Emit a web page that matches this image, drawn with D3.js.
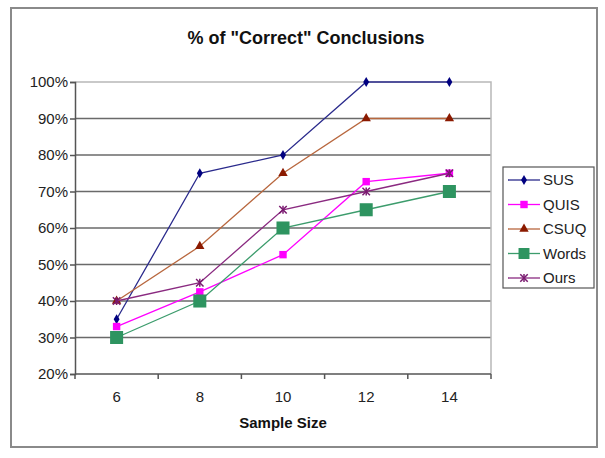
<!DOCTYPE html>
<html><head><meta charset="utf-8">
<script src="https://cdn.jsdelivr.net/npm/d3@7"></script>
<style>body{margin:0;background:#fff;} text{font-family:"Liberation Sans",Arial,sans-serif;}</style>
</head><body>
<svg id="c" width="605" height="458"></svg>
<script>
const categories = ["6", "8", "10", "12", "14"];
const sus   = [35, 75, 80, 100, 100];
const quis  = [33, 42.5, 52.7, 72.7, 75];
const csuq  = [40, 55, 75, 90, 90];
const words = [30, 40, 60, 65, 70];
const ours  = [40, 45, 65, 70, 75];
const yTicks = [20, 30, 40, 50, 60, 70, 80, 90, 100];
const seriesNames = ["SUS", "QUIS", "CSUQ", "Words", "Ours"];

const series = [
  {name: "SUS", values: sus, line: "#2a2a8c", fill: "#000080", marker: "diamond", size: 30},
  {name: "QUIS", values: quis, line: "#ff00ff", fill: "#ff00ff", marker: "square", size: 55},
  {name: "CSUQ", values: csuq, line: "#b8673e", fill: "#8b1a00", marker: "triangle", size: 38},
  {name: "Words", values: words, line: "#3c9c6c", fill: "#2e9460", marker: "square", size: 170},
  {name: "Ours", values: ours, line: "#8a2a80", fill: "#7a1a70", marker: "star", size: 38}
];

const svg = d3.select("#c");
svg.append("rect").attr("x", 11).attr("y", 8).attr("width", 586).attr("height", 439)
  .attr("fill", "#fff").attr("stroke", "#8a8a8a").attr("stroke-width", 2);

const L = 75, R = 491, T = 82, B = 374;
const x = d3.scaleBand().domain(categories).range([L, R]);
const y = d3.scaleLinear().domain([20, 100]).range([B, T]);

svg.append("text").attr("x", 306).attr("y", 44).attr("text-anchor", "middle")
  .attr("font-size", 18).attr("font-weight", "bold").attr("fill", "#111")
  .text('% of "Correct" Conclusions');

svg.append("g").selectAll("line").data(yTicks.slice(1, -1)).join("line")
  .attr("x1", L).attr("x2", R).attr("y1", d => y(d)).attr("y2", d => y(d))
  .attr("stroke", "#6a6a6a").attr("stroke-width", 1.6);
svg.append("path").attr("d", `M${L},${T}H${R}V${B}`).attr("fill", "none")
  .attr("stroke", "#b8b8b8").attr("stroke-width", 1.5);

const yAxis = d3.axisLeft(y).tickValues(yTicks).tickSize(5).tickFormat(d => d + "%");
const gy = svg.append("g").attr("transform", `translate(${L},0)`).call(yAxis);
const xAxis = d3.axisBottom(x).tickSize(0);
const gx = svg.append("g").attr("transform", `translate(0,${B})`).call(xAxis);
[gx, gy].forEach(g => {
  g.select(".domain").attr("stroke", "#555").attr("stroke-width", 1.5);
  g.selectAll(".tick line").attr("stroke", "#555").attr("stroke-width", 1.5);
  g.selectAll("text").attr("font-size", 15).attr("fill", "#222")
    .attr("font-family", '"Liberation Sans",Arial,sans-serif');
});
gy.selectAll("text").attr("x", -7);
gx.selectAll("text").attr("y", 28).attr("dy", 0);
gx.select(".domain").attr("d", `M${L},0H${R}`);
const bounds = d3.range(categories.length + 1).map(i => L + i * x.step());
svg.append("g").selectAll("line").data(bounds).join("line")
  .attr("x1", d => d).attr("x2", d => d).attr("y1", B).attr("y2", B + 5)
  .attr("stroke", "#555").attr("stroke-width", 1.5);

svg.append("text").attr("x", 283).attr("y", 428).attr("text-anchor", "middle")
  .attr("font-size", 15).attr("font-weight", "bold").attr("fill", "#111").text("Sample Size");

function symType(s) {
  return s.marker === "diamond" ? d3.symbolDiamond : s.marker === "triangle" ? d3.symbolTriangle :
    s.marker === "star" ? d3.symbolX : d3.symbolSquare;
}

const cx = d => x(d) + x.bandwidth() / 2;
series.forEach(s => {
  const pts = s.values.map((v, i) => [cx(categories[i]), y(v)]);
  svg.append("path").attr("d", d3.line()(pts)).attr("fill", "none")
    .attr("stroke", s.line).attr("stroke-width", 1.3);
  svg.append("g").selectAll("path").data(pts).join("path")
    .attr("transform", d => `translate(${d[0]},${d[1]})`)
    .attr("d", d3.symbol().type(symType(s)).size(s.size)())
    .attr("fill", s.fill)
    .attr("stroke", s.marker === "star" ? s.fill : "none")
    .attr("stroke-width", s.marker === "star" ? 1.5 : 0);
  if (s.marker === "star") {
    svg.append("g").selectAll("line").data(pts).join("line")
      .attr("x1", d => d[0]).attr("x2", d => d[0]).attr("y1", d => d[1] - 4).attr("y2", d => d[1] + 4)
      .attr("stroke", s.fill).attr("stroke-width", 1.5);
  }
});

const lg = svg.append("g");
lg.append("rect").attr("x", 503).attr("y", 167).attr("width", 91).attr("height", 121)
  .attr("fill", "#fff").attr("stroke", "#555").attr("stroke-width", 1.2);
const ly = d3.scalePoint().domain(seriesNames).range([180, 278]);
series.forEach(s => {
  const yy = ly(s.name);
  lg.append("line").attr("x1", 508).attr("x2", 540).attr("y1", yy).attr("y2", yy)
    .attr("stroke", s.line).attr("stroke-width", 1.3);
  const sz = s.name === "Words" ? 120 : s.size;
  lg.append("path").attr("transform", `translate(524,${yy})`)
    .attr("d", d3.symbol().type(symType(s)).size(sz)())
    .attr("fill", s.fill).attr("stroke", s.marker === "star" ? s.fill : "none").attr("stroke-width", 1.5);
  if (s.marker === "star") lg.append("line").attr("x1", 524).attr("x2", 524).attr("y1", yy - 4).attr("y2", yy + 4)
    .attr("stroke", s.fill).attr("stroke-width", 1.5);
  lg.append("text").attr("x", 543).attr("y", yy).attr("dy", "0.36em").attr("font-size", 15)
    .attr("fill", "#222").text(s.name);
});
</script>
</body></html>
